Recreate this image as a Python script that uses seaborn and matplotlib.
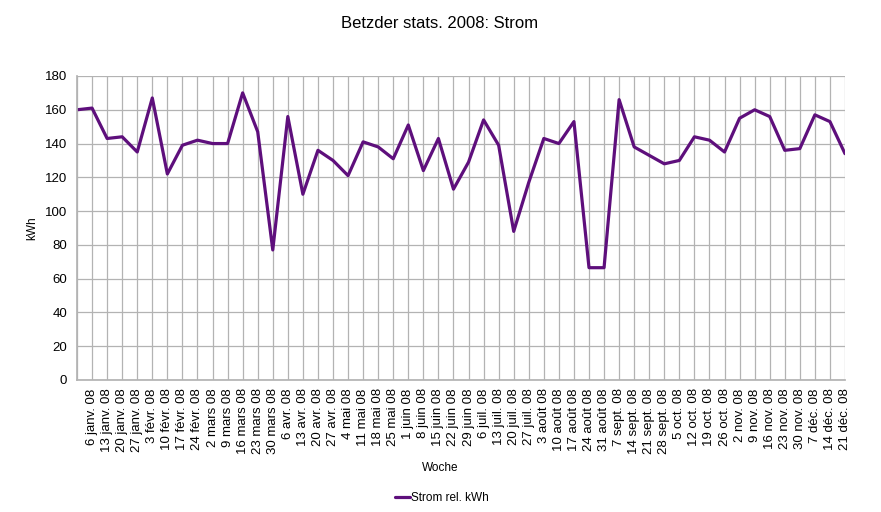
import matplotlib
matplotlib.use("Agg")
import matplotlib.pyplot as plt
import seaborn as sns
import pandas as pd

weeks = ["", "6 janv. 08", "13 janv. 08", "20 janv. 08", "27 janv. 08", "3 févr. 08",
         "10 févr. 08", "17 févr. 08", "24 févr. 08", "2 mars 08", "9 mars 08",
         "16 mars 08", "23 mars 08", "30 mars 08", "6 avr. 08", "13 avr. 08",
         "20 avr. 08", "27 avr. 08", "4 mai 08", "11 mai 08", "18 mai 08", "25 mai 08",
         "1 juin 08", "8 juin 08", "15 juin 08", "22 juin 08", "29 juin 08",
         "6 juil. 08", "13 juil. 08", "20 juil. 08", "27 juil. 08", "3 août 08",
         "10 août 08", "17 août 08", "24 août 08", "31 août 08", "7 sept. 08",
         "14 sept. 08", "21 sept. 08", "28 sept. 08", "5 oct. 08", "12 oct. 08",
         "19 oct. 08", "26 oct. 08", "2 nov. 08", "9 nov. 08", "16 nov. 08",
         "23 nov. 08", "30 nov. 08", "7 déc. 08", "14 déc. 08", "21 déc. 08"]

strom = [160, 161, 143, 144, 135, 167, 122, 139, 142, 140, 140, 170, 147, 77, 156,
         110, 136, 130, 121, 141, 138, 131, 151, 124, 143, 113, 129, 154, 139, 88,
         117, 143, 140, 153, 66.5, 66.5, 166, 138, 133, 128, 130, 144, 142, 135,
         155, 160, 156, 136, 137, 157, 153, 134]

yticks = [0, 20, 40, 60, 80, 100, 120, 140, 160, 180]

sns.set_theme(style="whitegrid")
plt.rcParams['font.family'] = ['Liberation Sans', 'DejaVu Sans']
plt.rcParams['text.color'] = 'black'
plt.rcParams['xtick.color'] = 'black'
plt.rcParams['ytick.color'] = 'black'

df = pd.DataFrame({"idx": range(len(strom)), "val": strom})

fig = plt.figure(figsize=(8.81, 5.12), dpi=100)
ax = fig.add_axes([77/881, 1 - 380/512, (845-77)/881, (380-76)/512])

sns.lineplot(data=df, x="idx", y="val", ax=ax, color="#5e0f7c", linewidth=2.3,
             label="Strom rel. kWh", legend=False)

ax.set_xlim(0, len(strom) - 1)
ax.set_ylim(0, 180)
ax.set_yticks(yticks)
ax.set_xticks(range(len(strom)))
ax.set_xticklabels(weeks, rotation=90, fontsize=9.5, ha="center")
ax.tick_params(axis="y", labelsize=9.5, length=4, color="#b3b3b3", labelcolor="black", pad=3)
ax.tick_params(axis="x", length=4, color="#b3b3b3", labelcolor="black", pad=2, direction="out")
ax.grid(True, color="#b3b3b3", linewidth=0.9)
for s in ["left", "bottom", "right", "top"]:
    ax.spines[s].set_visible(False)
ax.spines["left"].set_visible(True)
ax.spines["left"].set_color("#b3b3b3")
ax.spines["bottom"].set_visible(True)
ax.spines["bottom"].set_color("#b3b3b3")

ax.set_xlabel("")
ax.set_ylabel("")
fig.text(32/881, 1 - 228/512, "kWh", rotation=90, ha="center", va="center", fontsize=8.5)
fig.text(440/881, 1 - 468/512, "Woche", ha="center", va="center", fontsize=8.5)
fig.text(440/881, 1 - 24/512, "Betzder stats. 2008: Strom", ha="center", va="center", fontsize=12)

handles, labels = ax.get_legend_handles_labels()
leg = fig.legend(handles, labels, loc="center", bbox_to_anchor=(442/881, 1 - 498/512),
                 frameon=False, fontsize=8.5, handlelength=1.3, handletextpad=0.1)

fig.savefig("out.png", dpi=100, facecolor="white")
